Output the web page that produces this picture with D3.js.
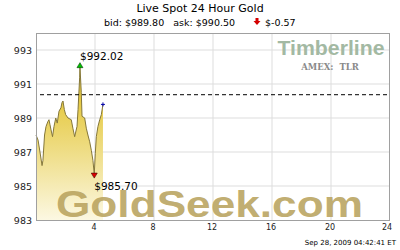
<!DOCTYPE html>
<html>
<head>
<meta charset="utf-8">
<script src="https://cdn.jsdelivr.net/npm/d3@7"></script>
<style>
  html, body { margin: 0; padding: 0; background: #fff; }
  svg { display: block; font-family: "DejaVu Sans", Verdana, sans-serif; }
</style>
</head>
<body>
<div id="chart"></div>
<script>
// hours since midnight and spot price
const hours = [0, 0.14, 0.27, 0.41, 0.47, 0.58, 0.68, 0.81, 0.88, 0.95, 1.02, 1.12, 1.22, 1.34, 1.44,
  1.56, 1.69, 1.76, 1.83, 1.92, 2.01, 2.17, 2.39, 2.5, 2.62, 2.78, 2.85, 2.96, 2.98, 3.07, 3.12,
  3.3, 3.41, 3.52, 3.64, 3.75, 3.86, 3.95, 4.02, 4.09, 4.2, 4.32, 4.43, 4.54]
const prices = [988.0, 987.7, 987.0, 986.2, 986.5, 988.0, 988.5, 988.8, 988.9, 988.6, 988.3, 987.9, 988.5, 989.0, 988.7,
  989.4, 989.6, 989.9, 990.0, 989.5, 989.2, 989.0, 988.9, 988.4, 987.9, 988.5, 989.5, 991.4, 992.02, 990.5, 989.1,
  989.0, 988.4, 988.0, 987.6, 987.1, 986.5, 985.7, 986.9, 987.9, 988.5, 988.9, 989.2, 989.8]

const yTicks = [983, 985, 987, 989, 991, 993]
const xTicks = [4, 8, 12, 16, 20, 24]
const prevClose = 990.37
const high = { hour: 2.98, price: 992.02, label: "$992.02" }
const low = { hour: 3.95, price: 985.70, label: "$985.70" }

const W = 400, H = 250
const pl = 36, pr = 390, pt = 33, pb = 220

const x = d3.scaleLinear().domain([0, 24]).range([pl, pr])
const y = d3.scaleLinear().domain([983, 994]).range([pb, pt])

const svg = d3.select("#chart").append("svg")
  .attr("width", W).attr("height", H)

const defs = svg.append("defs")
const grad = defs.append("linearGradient")
  .attr("id", "goldFill").attr("gradientUnits", "userSpaceOnUse")
  .attr("x1", 0).attr("x2", 0).attr("y1", y(990)).attr("y2", pb)
grad.append("stop").attr("offset", 0).attr("stop-color", "#e6ca44")
grad.append("stop").attr("offset", 0.4).attr("stop-color", "#eedc82")
grad.append("stop").attr("offset", 1).attr("stop-color", "#fcf8e2")

// title
svg.append("text").attr("x", 200).attr("y", 12).attr("text-anchor", "middle")
  .style("font-size", "11px").attr("fill", "#000").text("Live Spot 24 Hour Gold")
svg.append("text").attr("x", 104).attr("y", 26)
  .style("font-size", "9.5px").attr("fill", "#000").attr("xml:space", "preserve")
  .text("bid: $989.80   ask: $990.50")
svg.append("path").attr("d", "M255.5,18 h3 v3 h2 l-3.5,4 l-3.5,-4 h2 z").attr("fill", "#d40000")
svg.append("text").attr("x", 265).attr("y", 26)
  .style("font-size", "9.5px").attr("fill", "#000").text("$-0.57")

// grid
const grid = svg.append("g")
grid.selectAll("line.v").data(xTicks.slice(0, -1)).join("line")
  .attr("x1", d => x(d)).attr("x2", d => x(d)).attr("y1", pt).attr("y2", pb)
  .attr("stroke", "#dddddd")
grid.selectAll("line.h").data(yTicks.slice(1)).join("line")
  .attr("x1", pl).attr("x2", pr).attr("y1", d => y(d)).attr("y2", d => y(d))
  .attr("stroke", "#dddddd")

// logo
svg.append("text").attr("x", 331).attr("y", 55).attr("text-anchor", "middle")
  .style("font-family", "'Liberation Sans', Arial, sans-serif").style("font-weight", "bold")
  .style("font-size", "20px").attr("textLength", 107).attr("lengthAdjust", "spacingAndGlyphs")
  .attr("fill", "#a3b9a3").text("Timberline")
svg.append("text").attr("x", 330).attr("y", 70).attr("text-anchor", "middle")
  .style("font-family", "'DejaVu Serif', serif").style("font-weight", "bold")
  .style("font-size", "8.5px").attr("fill", "#8a8a8a").attr("xml:space", "preserve")
  .text("AMEX:  TLR")

// area + line
const data = hours.map((h, i) => [h, prices[i]])
svg.append("path").datum(data)
  .attr("d", d3.area().x(d => x(d[0])).y0(pb).y1(d => y(d[1])))
  .attr("fill", "url(#goldFill)")
svg.append("path").datum(data)
  .attr("d", d3.line().x(d => x(d[0])).y(d => y(d[1])))
  .attr("fill", "none").attr("stroke", "#84773a").attr("stroke-width", 1)

// watermark
svg.append("text").attr("x", 56).attr("y", 217)
  .style("font-family", "'Liberation Sans', Arial, sans-serif").style("font-weight", "bold")
  .style("font-size", "36px").attr("textLength", 307).attr("lengthAdjust", "spacingAndGlyphs")
  .attr("fill", "#b9a35e").attr("fill-opacity", 0.9).text("GoldSeek.com")

// previous close
svg.append("line").attr("x1", pl + 4).attr("x2", pr - 2)
  .attr("y1", y(prevClose)).attr("y2", y(prevClose))
  .attr("stroke", "#000").attr("stroke-dasharray", "4,3")

// frame
svg.append("rect").attr("x", pl + 0.5).attr("y", pt + 0.5)
  .attr("width", pr - pl - 1).attr("height", pb - pt)
  .attr("fill", "none").attr("stroke", "#a0a0a0")

// markers
const hx = x(high.hour), hy = y(high.price)
svg.append("path").attr("d", `M${hx - 3},${hy + 1} L${hx + 3},${hy + 1} L${hx},${hy - 4} Z`)
  .attr("fill", "#00c000").attr("stroke", "#004000").attr("stroke-width", 0.6)
svg.append("text").attr("x", hx).attr("y", hy - 7)
  .style("font-size", "10.5px").attr("fill", "#000").text(high.label)
const lx = x(low.hour), ly = y(low.price)
svg.append("path").attr("d", `M${lx - 3},${ly - 1} L${lx + 3},${ly - 1} L${lx},${ly + 4} Z`)
  .attr("fill", "#e00000").attr("stroke", "#400000").attr("stroke-width", 0.6)
svg.append("text").attr("x", lx).attr("y", ly + 16)
  .style("font-size", "10.5px").attr("fill", "#000").text(low.label)
const last = data[data.length - 1]
svg.append("path").attr("d", `M${x(last[0]) - 2},${y(last[1])} h4 M${x(last[0])},${y(last[1]) - 2} v4`)
  .attr("stroke", "#0000aa").attr("stroke-width", 1)

// axes labels
svg.append("g").selectAll("text").data(yTicks).join("text")
  .attr("x", pl - 4).attr("y", d => y(d) + 3.5).attr("text-anchor", "end")
  .style("font-size", "9.5px").attr("fill", "#222").text(d => d)
svg.append("g").selectAll("text").data(xTicks).join("text")
  .attr("x", d => d === 24 ? x(d) - 3 : x(d) - 1).attr("y", 230).attr("text-anchor", "middle")
  .style("font-size", "8px").attr("fill", "#222").text(d => d)

svg.append("text").attr("x", 396).attr("y", 245).attr("text-anchor", "end")
  .style("font-size", "7px").attr("fill", "#000").text("Sep 28, 2009 04:42:41 ET")
</script>
</body>
</html>
